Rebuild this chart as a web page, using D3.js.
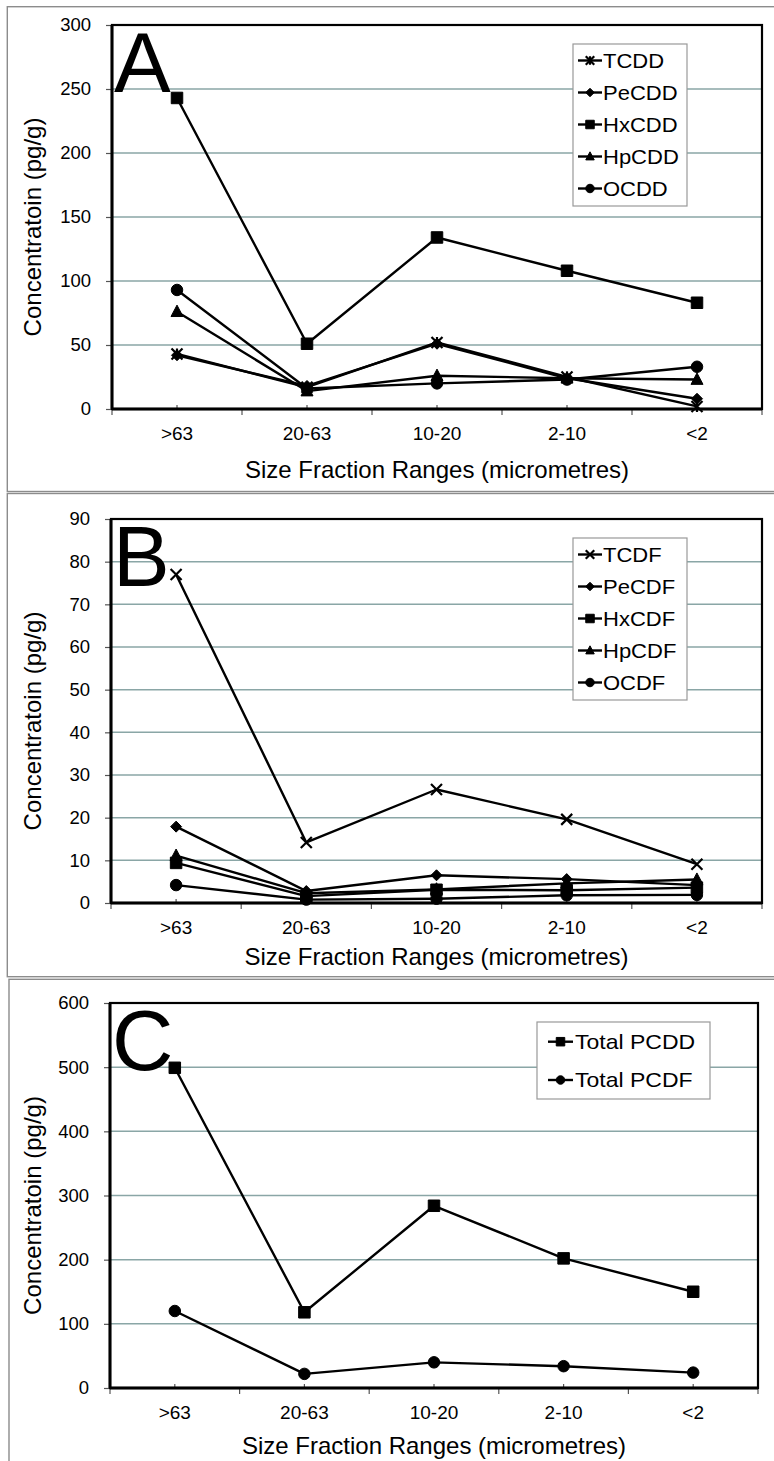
<!DOCTYPE html>
<html><head><meta charset="utf-8">
<script src="https://cdn.jsdelivr.net/npm/d3@7"></script>
<style>
html,body{margin:0;padding:0;background:#fff;}
svg{display:block;font-family:"Liberation Sans",Arial,sans-serif;}
</style></head>
<body>
<svg id="chart" width="774" height="1461"></svg>
<script>
// ---------- data ----------
const categories = [">63", "20-63", "10-20", "2-10", "<2"];

const seriesNamesA = ["TCDD", "PeCDD", "HxCDD", "HpCDD", "OCDD"];
const TCDD  = [43, 17, 52, 25, 2];
const PeCDD = [42, 18, 51, 24, 8];
const HxCDD = [243, 51, 134, 108, 83];
const HpCDD = [76, 14, 26, 24, 23];
const OCDD  = [93, 16, 20, 23, 33];

const seriesNamesB = ["TCDF", "PeCDF", "HxCDF", "HpCDF", "OCDF"];
const TCDF  = [77, 14.2, 26.6, 19.6, 9.1];
const PeCDF = [17.9, 2.8, 6.5, 5.6, 4.2];
const HxCDF = [9.4, 1.6, 3.1, 3.0, 3.6];
const HpCDF = [11.1, 2.3, 3.2, 4.6, 5.5];
const OCDF  = [4.2, 0.8, 1.0, 1.8, 1.9];

const seriesNamesC = ["Total PCDD", "Total PCDF"];
const totalPCDD = [499, 118, 284, 202, 150];
const totalPCDF = [120, 22, 40, 34, 24];

const ticksA = [0, 50, 100, 150, 200, 250, 300];
const ticksB = [0, 10, 20, 30, 40, 50, 60, 70, 80, 90];
const ticksC = [0, 100, 200, 300, 400, 500, 600];

const yTitle = "Concentratoin (pg/g)";
const xTitle = "Size Fraction Ranges (micrometres)";

// ---------- drawing ----------
const svg = d3.select("#chart");
const FONT = '"Liberation Sans",Arial,sans-serif';

// panel frames
const frames = svg.append("g").attr("fill", "none").attr("stroke", "#8c8c8c").attr("stroke-width", 1.4);
frames.append("rect").attr("x", 7.3).attr("y", 6.7).attr("width", 790).attr("height", 484.8);
frames.append("rect").attr("x", 7.3).attr("y", 493.5).attr("width", 790).attr("height", 483.2);
frames.append("rect").attr("x", 9).attr("y", 979.3).attr("width", 790).attr("height", 520);

function markerPath(type, s) {
  const h = s / 2;
  switch (type) {
    case "square": return `M${-h},${-h}H${h}V${h}H${-h}Z`;
    case "diamond": return `M0,${-h}L${h},0L0,${h}L${-h},0Z`;
    case "triangle": return `M0,${-h * 1.1}L${h},${h * 0.8}L${-h},${h * 0.8}Z`;
    case "circle": return `M${h},0A${h},${h} 0 1,1 ${-h},0A${h},${h} 0 1,1 ${h},0Z`;
    case "x": return `M${-h},${-h}L${h},${h}M${-h},${h}L${h},${-h}`;
    case "star": return `M${-h},${-h}L${h},${h}M${-h},${h}L${h},${-h}M0,${-h}V${h}`;
  }
}
function drawMarker(g, type, x, y, s) {
  const open = (type === "x" || type === "star");
  g.append("path")
    .attr("transform", `translate(${x},${y})`)
    .attr("d", markerPath(type, s))
    .attr("fill", open ? "none" : "#000")
    .attr("stroke", "#000")
    .attr("stroke-width", open ? 2.2 : 1);
}
function stext(g, x, y, str, size, sx, anchor) {
  return g.append("text")
    .attr("transform", `translate(${x},${y}) scale(${sx},1)`)
    .attr("font-size", size)
    .attr("font-family", FONT)
    .attr("text-anchor", anchor || "start")
    .attr("fill", "#000")
    .text(str);
}

function panel(cfg) {
  const g = svg.append("g");
  const x = d3.scaleBand().domain(categories).range([cfg.left, cfg.right]).padding(0);
  const y = d3.scaleLinear().domain([0, cfg.max]).range([cfg.bottom, cfg.top]);
  const cx = c => x(c) + x.bandwidth() / 2;

  // gridlines
  g.append("g").selectAll("line").data(cfg.ticks.filter(t => t > 0 && t < cfg.max)).join("line")
    .attr("x1", cfg.left).attr("x2", cfg.right)
    .attr("y1", d => y(d)).attr("y2", d => y(d))
    .attr("stroke", "#8aa6a6").attr("stroke-width", 1.5);

  // y axis ticks + labels
  const yAxis = d3.axisLeft(y).tickValues(cfg.ticks).tickSize(6).tickPadding(15).tickFormat(d3.format("d"));
  const ya = g.append("g").attr("transform", `translate(${cfg.left},0)`).call(yAxis);
  ya.select(".domain").remove();
  ya.selectAll(".tick line").attr("stroke", "#555").attr("stroke-width", 1.2);
  ya.selectAll(".tick text").attr("font-size", 18.5).attr("font-family", FONT).attr("fill", "#000");

  // x axis: category labels
  const xAxis = d3.axisBottom(x).tickSize(0).tickPadding(18);
  const xa = g.append("g").attr("transform", `translate(0,${cfg.bottom})`).call(xAxis);
  xa.select(".domain").remove();
  xa.selectAll(".tick text").attr("font-size", 19).attr("font-family", FONT).attr("fill", "#000");
  // boundary ticks (outside) and center ticks (inside)
  const bounds = categories.map(c => x(c)).concat([cfg.right]);
  g.append("g").selectAll("line").data(bounds).join("line")
    .attr("x1", d => d).attr("x2", d => d)
    .attr("y1", cfg.bottom).attr("y2", cfg.bottom + 6)
    .attr("stroke", "#555").attr("stroke-width", 1.2);
  g.append("g").selectAll("line").data(categories).join("line")
    .attr("x1", d => cx(d)).attr("x2", d => cx(d))
    .attr("y1", cfg.bottom).attr("y2", cfg.bottom - 4)
    .attr("stroke", "#555").attr("stroke-width", 1.2);

  // plot border
  g.append("rect").attr("x", cfg.left).attr("y", cfg.top)
    .attr("width", cfg.right - cfg.left).attr("height", cfg.bottom - cfg.top)
    .attr("fill", "none").attr("stroke", "#000").attr("stroke-width", 2.2);
  g.append("line").attr("x1", cfg.left).attr("x2", cfg.left).attr("y1", cfg.top).attr("y2", cfg.bottom)
    .attr("stroke", "#000").attr("stroke-width", 3);
  g.append("line").attr("x1", cfg.left).attr("x2", cfg.right).attr("y1", cfg.bottom).attr("y2", cfg.bottom)
    .attr("stroke", "#000").attr("stroke-width", 3);

  // big letter
  g.append("text").attr("x", cfg.left + 2).attr("y", cfg.top + 67)
    .attr("font-size", 85).attr("font-family", FONT).attr("fill", "#000").text(cfg.letter);

  // series
  const line = d3.line().x((d, i) => cx(categories[i])).y(d => y(d));
  cfg.series.forEach(s => {
    g.append("path").datum(s.values).attr("d", line)
      .attr("fill", "none").attr("stroke", "#000").attr("stroke-width", 2.4).attr("stroke-linejoin", "round");
  });
  cfg.series.forEach(s => {
    s.values.forEach((v, i) => drawMarker(g, s.marker, cx(categories[i]), y(v), s.size));
  });

  // legend
  const L = cfg.legend;
  const lg = g.append("g");
  lg.append("rect").attr("x", L.x).attr("y", L.y).attr("width", L.w).attr("height", L.h)
    .attr("fill", "#fff").attr("stroke", "#999").attr("stroke-width", 1.2);
  cfg.series.forEach((s, i) => {
    const yy = L.y + L.first + i * L.step;
    lg.append("line").attr("x1", L.x + L.lx0).attr("x2", L.x + L.lx1).attr("y1", yy).attr("y2", yy)
      .attr("stroke", "#000").attr("stroke-width", 2.4);
    drawMarker(lg, s.marker, L.x + (L.lx0 + L.lx1) / 2, yy, 8.5);
    stext(lg, L.x + L.tx, yy + 7, s.name, L.fs, L.sx);
  });

  // axis titles
  g.append("text").attr("x", (cfg.left + cfg.right) / 2).attr("y", cfg.bottom + cfg.xTitleOff + 8.5)
    .attr("text-anchor", "middle").attr("font-size", 24).attr("font-family", FONT).attr("fill", "#000").text(xTitle);
  g.append("text").attr("transform", `translate(${40.5},${(cfg.top + cfg.bottom) / 2 + 10}) rotate(-90)`)
    .attr("text-anchor", "middle").attr("font-size", 24).attr("font-family", FONT).attr("fill", "#000").text(yTitle);
}

const legendAB = { x: 573, w: 114, h: 162, first: 16.5, step: 32, lx0: 5, lx1: 29, tx: 30, fs: 20, sx: 1.1 };

panel({
  letter: "A", left: 112, right: 762, top: 25, bottom: 409, max: 300, ticks: ticksA, xTitleOff: 60,
  series: [
    { name: seriesNamesA[0], values: TCDD, marker: "star", size: 11 },
    { name: seriesNamesA[1], values: PeCDD, marker: "diamond", size: 11 },
    { name: seriesNamesA[2], values: HxCDD, marker: "square", size: 11.5 },
    { name: seriesNamesA[3], values: HpCDD, marker: "triangle", size: 12 },
    { name: seriesNamesA[4], values: OCDD, marker: "circle", size: 11.5 }
  ],
  legend: Object.assign({}, legendAB, { y: 44 })
});

panel({
  letter: "B", left: 111, right: 762, top: 519, bottom: 903, max: 90, ticks: ticksB, xTitleOff: 53,
  series: [
    { name: seriesNamesB[0], values: TCDF, marker: "x", size: 11 },
    { name: seriesNamesB[1], values: PeCDF, marker: "diamond", size: 11 },
    { name: seriesNamesB[2], values: HxCDF, marker: "square", size: 11.5 },
    { name: seriesNamesB[3], values: HpCDF, marker: "triangle", size: 12 },
    { name: seriesNamesB[4], values: OCDF, marker: "circle", size: 11.5 }
  ],
  legend: Object.assign({}, legendAB, { y: 538 })
});

panel({
  letter: "C", left: 110, right: 758, top: 1003, bottom: 1388, max: 600, ticks: ticksC, xTitleOff: 57,
  series: [
    { name: seriesNamesC[0], values: totalPCDD, marker: "square", size: 11.5 },
    { name: seriesNamesC[1], values: totalPCDF, marker: "circle", size: 11.5 }
  ],
  legend: { x: 537, y: 1022, w: 173, h: 77, first: 19.7, step: 38.3, lx0: 11, lx1: 36, tx: 38, fs: 20, sx: 1.15 }
});
</script>
</body></html>
